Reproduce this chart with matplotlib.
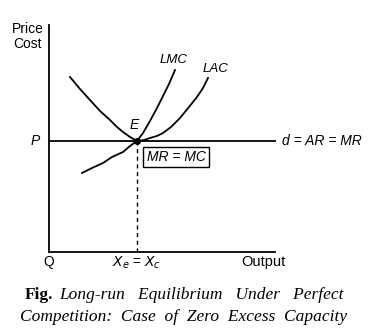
import matplotlib.pyplot as plt

plt.rcParams['font.family'] = ['Liberation Sans', 'DejaVu Sans']

# 値は図から読み取り (原点Q基準, 単位はだいたいpx)
p_level = 111          # P = AR = MR
x_eq = 88              # Xe = Xc
x_max = 226
y_max = 227

lac_x = [21, 31, 41, 51, 61, 68, 74, 81, 88, 95, 101, 108, 114, 122, 131, 140, 148, 154, 159]
lac_y = [175, 163, 152, 141, 132, 125, 120, 115, 111, 112, 114, 116, 119, 125, 134, 145, 155, 164, 174]

lmc_x = [33, 43, 54, 63, 74, 81, 88, 94, 101, 108, 114, 120, 126]
lmc_y = [79, 84, 89, 95, 100, 106, 111, 119, 131, 144, 156, 168, 182]

fig = plt.figure(figsize=(3.82, 3.34), dpi=100)
ax = fig.add_axes([0, 0, 1, 1])
ax.set_xlim(-49, 333)
ax.set_ylim(-82, 252)
ax.axis('off')

# 軸
ax.plot([0, 0], [0, y_max], color='black', lw=1.3)
ax.plot([0, x_max], [0, 0], color='black', lw=1.3)

# 水平線 d = AR = MR
ax.plot([0, x_max], [p_level, p_level], color='black', lw=1.3)
ax.plot([x_eq, x_eq], [0, p_level], color='black', lw=1.0, ls=(0, (3, 2.5)))

# LAC, LMC
ax.plot(lac_x, lac_y, color='black', lw=1.3)
ax.plot(lmc_x, lmc_y, color='black', lw=1.3)
ax.plot([x_eq], [p_level], 'o', color='black', ms=4)

# ラベル
ax.text(-21, 230, 'Price\nCost', ha='center', va='top', fontsize=10, linespacing=1.05)
ax.text(-14, p_level, 'P', ha='center', va='center', fontsize=10, style='italic')
ax.text(0, -10, 'Q', ha='center', va='center', fontsize=10)
ax.text(x_eq, -11, r'$X_e$ = $X_c$', ha='center', va='center', fontsize=10,
        math_fontfamily='dejavusans')
ax.text(214, -10, 'Output', ha='center', va='center', fontsize=10.5)
ax.text(233, p_level, 'd = AR = MR', ha='left', va='center', fontsize=10, style='italic')
ax.text(x_eq - 3, 127, 'E', ha='center', va='center', fontsize=10, style='italic')
ax.text(125, 192, 'LMC', ha='center', va='center', fontsize=9.5, style='italic')
ax.text(167, 183, 'LAC', ha='center', va='center', fontsize=9.5, style='italic')
ax.text(127, 95, 'MR = MC', ha='center', va='center', fontsize=10, style='italic',
        bbox=dict(boxstyle='square,pad=0.25', fc='white', ec='black', lw=1.0))

# キャプション
ax.text(-24, -43, 'Fig.', ha='left', va='center', fontsize=12.5,
        family='Liberation Serif', weight='bold')
ax.text(10, -43, 'Long-run   Equilibrium   Under   Perfect', ha='left', va='center',
        fontsize=12.5, family='Liberation Serif', style='italic')
ax.text(134.5, -65, 'Competition:  Case  of  Zero  Excess  Capacity', ha='center', va='center',
        fontsize=12.5, family='Liberation Serif', style='italic')

fig.savefig('out.png', dpi=100)
